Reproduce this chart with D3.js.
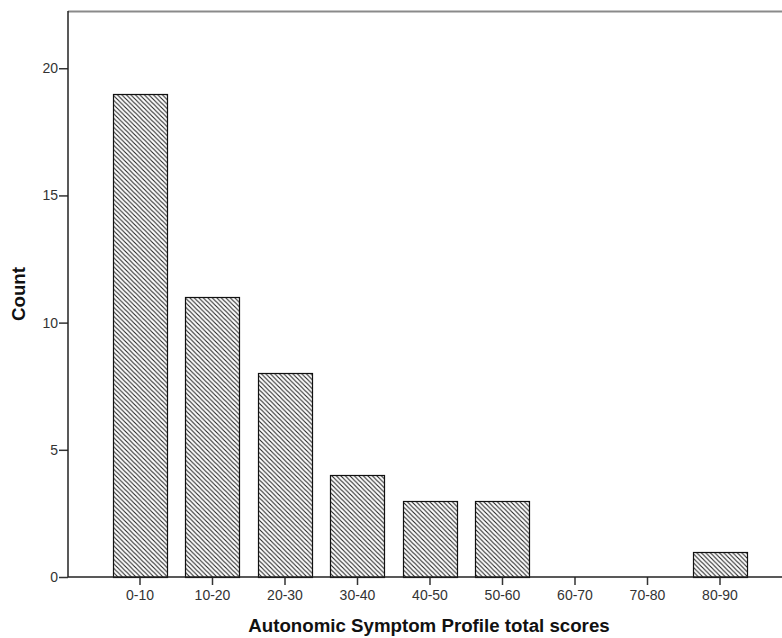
<!DOCTYPE html>
<html>
<head>
<meta charset="utf-8">
<script src="https://cdn.jsdelivr.net/npm/d3@7"></script>
<style>
  body { margin: 0; background: #fff; }
  svg { display: block; }
</style>
</head>
<body>
<svg id="chart" width="782" height="638"></svg>
<script>
const categories = ["0-10", "10-20", "20-30", "30-40", "40-50", "50-60", "60-70", "70-80", "80-90"];
const counts = [19, 11, 8, 4, 3, 3, 0, 0, 1];
const yTicks = [0, 5, 10, 15, 20];
const xTitle = "Autonomic Symptom Profile total scores";
const yTitle = "Count";

(function () {
const svg = d3.select("#chart");
const mLeft = 68, mRight = 782, mTop = 11, mBottom = 577;
const FONT = "Arial, 'Liberation Sans', sans-serif";

const x = d3.scaleBand()
  .domain(categories)
  .range([103.75, 756.25])
  .paddingInner(0.25)
  .paddingOuter(0.125);

const y = d3.scaleLinear().domain([0, 22.25]).range([mBottom, mTop]);

// hatch pattern
const defs = svg.append("defs");
const pat = defs.append("pattern")
  .attr("id", "hatch")
  .attr("patternUnits", "userSpaceOnUse")
  .attr("width", 4.5).attr("height", 4.5);
pat.append("rect").attr("width", 4.5).attr("height", 4.5).attr("fill", "#fff");
pat.append("path")
  .attr("d", "M-1.125,-1.125 L5.625,5.625 M-1.125,3.375 L1.125,5.625 M3.375,-1.125 L5.625,1.125")
  .attr("stroke", "#222").attr("stroke-width", 1.1);

// top frame line
svg.append("line")
  .attr("x1", mLeft).attr("x2", mRight).attr("y1", mTop + 0.5).attr("y2", mTop + 0.5)
  .attr("stroke", "#8a8a8a").attr("stroke-width", 2);

// bars
svg.append("g").selectAll("rect")
  .data(categories.map((c, i) => ({c, v: counts[i]})).filter(d => d.v > 0))
  .join("rect")
  .attr("x", d => Math.round(x(d.c)) + 0.5)
  .attr("y", d => Math.round(y(d.v)) + 0.5)
  .attr("width", Math.round(x.bandwidth()))
  .attr("height", d => Math.round(y(0)) - Math.round(y(d.v)))
  .attr("fill", "url(#hatch)")
  .attr("stroke", "#111")
  .attr("stroke-width", 1.2);

// y axis
const yAxis = svg.append("g")
  .attr("transform", `translate(${mLeft},0)`)
  .call(d3.axisLeft(y).tickValues(yTicks).tickSize(9).tickPadding(1).tickFormat(d3.format("d")));
yAxis.select(".domain").remove();
yAxis.append("line").attr("x1", 0).attr("x2", 0).attr("y1", mTop).attr("y2", mBottom)
  .attr("stroke", "#222").attr("stroke-width", 1.5);
yAxis.selectAll(".tick line").attr("stroke", "#333").attr("stroke-width", 1.5);
yAxis.selectAll(".tick text")
  .attr("font-family", FONT)
  .attr("font-size", 14).attr("fill", "#333");

// x axis
const xAxis = svg.append("g")
  .attr("transform", `translate(0,${mBottom})`)
  .call(d3.axisBottom(x).tickSize(8).tickPadding(5));
xAxis.select(".domain").remove();
xAxis.append("line").attr("x1", mLeft).attr("x2", mRight).attr("y1", 0).attr("y2", 0)
  .attr("stroke", "#222").attr("stroke-width", 1.5);
xAxis.selectAll(".tick line").attr("stroke", "#333").attr("stroke-width", 1.5);
xAxis.selectAll(".tick text")
  .attr("font-family", FONT)
  .attr("font-size", 14).attr("fill", "#333");

// titles
svg.append("text")
  .attr("x", 429).attr("y", 632)
  .attr("text-anchor", "middle")
  .attr("font-family", FONT)
  .attr("font-weight", "bold").attr("font-size", 18.7).attr("fill", "#111")
  .text(xTitle);

svg.append("text")
  .attr("transform", `translate(25,${(mTop + mBottom) / 2}) rotate(-90)`)
  .attr("text-anchor", "middle")
  .attr("font-family", FONT)
  .attr("font-weight", "bold").attr("font-size", 18.7).attr("fill", "#111")
  .text(yTitle);
})();
</script>
</body>
</html>
